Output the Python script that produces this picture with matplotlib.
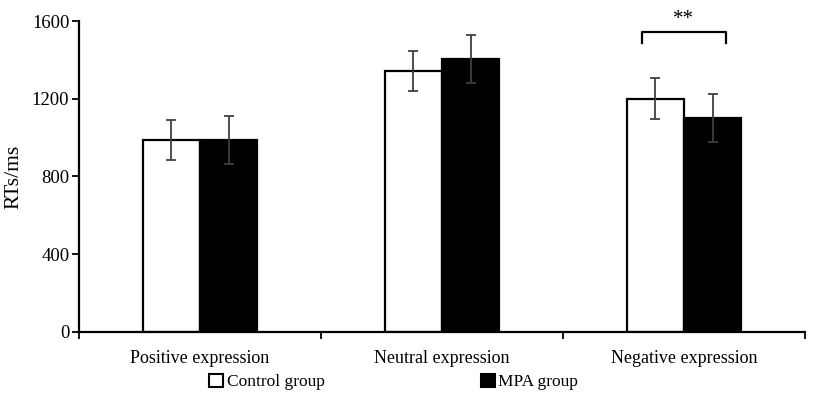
import numpy as np
import matplotlib
matplotlib.use("Agg")
import matplotlib.pyplot as plt
from matplotlib.patches import Patch

plt.rcParams["font.family"] = ["Liberation Serif", "DejaVu Serif"]

categories = ["Positive expression", "Neutral expression", "Negative expression"]
groups = ["Control group", "MPA group"]
control = [988, 1345, 1201]
control_err = [103, 103, 105]
mpa = [988, 1404, 1100]
mpa_err = [125, 124, 123]

fig = plt.figure(figsize=(8.29, 3.99), dpi=100)
ax = fig.add_axes([0.0953, 0.1687, 0.8757, 0.7779])

x = np.arange(len(categories))
w = 0.236
errkw = dict(ecolor="#404040", elinewidth=1.3, capsize=3.5, capthick=1.3)
ax.bar(x - w / 2, control, w, yerr=control_err, color="white", edgecolor="black",
       linewidth=1.6, error_kw=errkw)
ax.bar(x + w / 2, mpa, w, yerr=mpa_err, color="black", edgecolor="black",
       linewidth=1.6, error_kw=errkw)

# significance bracket over negative expression
bx0, bx1, by, bh = 1.825, 2.172, 1545, 59
ax.plot([bx0, bx0, bx1, bx1], [by - bh, by, by, by - bh], color="black", lw=1.6, clip_on=False)
ax.text((bx0 + bx1) / 2, by + 15, "**", ha="center", va="bottom", fontsize=15, clip_on=False)

ax.set_xlim(-0.5, 2.5)
ax.set_ylim(0, 1600)
ax.set_yticks([0, 400, 800, 1200, 1600])
ax.set_xticks(x)
ax.set_xticklabels(categories, fontsize=13)
ax.set_xticks([-0.5, 0.5, 1.5, 2.5], minor=True)
ax.tick_params(axis="x", which="major", length=0, pad=13)
ax.tick_params(axis="x", which="minor", length=5, width=1.3, direction="out")
ax.tick_params(axis="y", length=5, width=1.3, labelsize=13.5, pad=2)
ax.set_ylabel("RTs/ms", fontsize=15.5, labelpad=6)

for s in ["top", "right"]:
    ax.spines[s].set_visible(False)
ax.spines["left"].set_linewidth(1.6)
ax.spines["bottom"].set_linewidth(1.6)

handles = [Patch(facecolor="white", edgecolor="black", linewidth=1.5),
           Patch(facecolor="black", edgecolor="black", linewidth=1.5)]
fig.legend(handles, groups, loc="center", bbox_to_anchor=(0.475, 0.043), ncol=2,
           frameon=False, fontsize=12.5, handlelength=0.8, handleheight=0.8,
           handletextpad=0.2, columnspacing=9.0)

fig.savefig("out.png", dpi=100)
